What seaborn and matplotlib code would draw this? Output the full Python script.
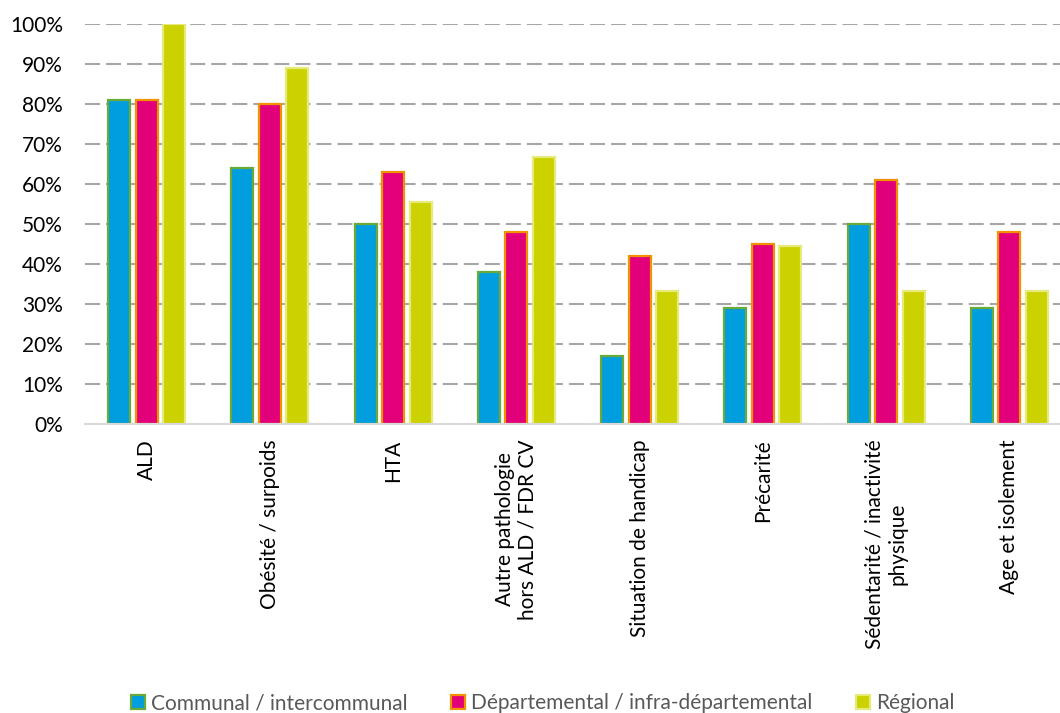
import matplotlib
matplotlib.use("Agg")
import matplotlib.pyplot as plt
import seaborn as sns
import pandas as pd
from matplotlib.patches import Patch
from matplotlib.ticker import PercentFormatter

categories = ["ALD", "Obésité / surpoids", "HTA", "Autre pathologie\nhors ALD / FDR CV",
              "Situation de handicap", "Précarité", "Sédentarité / inactivité\nphysique",
              "Age et isolement"]
series_names = ["Communal / intercommunal", "Départemental / infra-départemental", "Régional"]
communal = [81, 64, 50, 38, 17, 29, 50, 29]
departemental = [81, 80, 63, 48, 42, 45, 61, 48]
regional = [100, 88.9, 55.6, 66.7, 33.3, 44.4, 33.3, 33.3]
yticks = [0, 10, 20, 30, 40, 50, 60, 70, 80, 90, 100]

fills = ["#009EDF", "#E2007A", "#CCD100"]
edges = ["#6AAA3A", "#F39200", "#E6EA7A"]

rows = []
for name, vals in zip(series_names, [communal, departemental, regional]):
    for c, v in zip(categories, vals):
        rows.append({"cat": c, "serie": name, "val": v})
df = pd.DataFrame(rows)

sns.set_theme(style="white")
plt.rcParams['font.family'] = ['Lato', 'DejaVu Sans']

fig = plt.figure(figsize=(10.6, 7.13), dpi=100)
ax = fig.add_axes([85/1060, (713-424)/713, (1071-85)/1060, 400/713])

sns.barplot(data=df, x="cat", y="val", hue="serie", palette=fills, width=0.67, gap=0.2,
            ax=ax, legend=False, zorder=3, saturation=1)

n = len(categories)
for i, cont in enumerate(ax.containers):
    for p in cont:
        p.set_edgecolor(edges[i])
        p.set_linewidth(1.6)

ax.set_ylim(0, 100)
ax.set_xlim(-0.5, n - 0.5)
ax.set_yticks(yticks)
ax.yaxis.set_major_formatter(PercentFormatter(decimals=0))
ax.grid(axis="y", color="#A6A6A6", linestyle=(0, (7.2, 2.9)), linewidth=1.5, zorder=0)
ax.grid(axis="x", visible=False)
for s in ["left", "right", "top"]:
    ax.spines[s].set_visible(False)
ax.spines["bottom"].set_color("#D9D9D9")
ax.spines["bottom"].set_linewidth(1.5)
ax.spines["bottom"].set_zorder(4)
ax.set_xlabel("")
ax.set_ylabel("")
ax.tick_params(axis="y", length=0, pad=16, labelsize=15, labelcolor="#000000")
ax.tick_params(axis="x", length=0, pad=11, labelsize=15, labelcolor="#000000")
for lbl in ax.get_xticklabels():
    lbl.set_rotation(90)
    lbl.set_ha("center")
    lbl.set_va("top")
    lbl.set_multialignment("center")

handles = [Patch(facecolor=f, edgecolor=e, linewidth=1.6) for f, e in zip(fills, edges)]
fig.legend(handles, series_names, loc="center", bbox_to_anchor=(543/1060, 1 - 703/713),
           ncol=3, frameon=False, fontsize=15, handlelength=0.65, handleheight=0.65,
           handletextpad=0.3, columnspacing=2.1, labelcolor="#595959", borderaxespad=0)

fig.savefig("out.png", dpi=100)
